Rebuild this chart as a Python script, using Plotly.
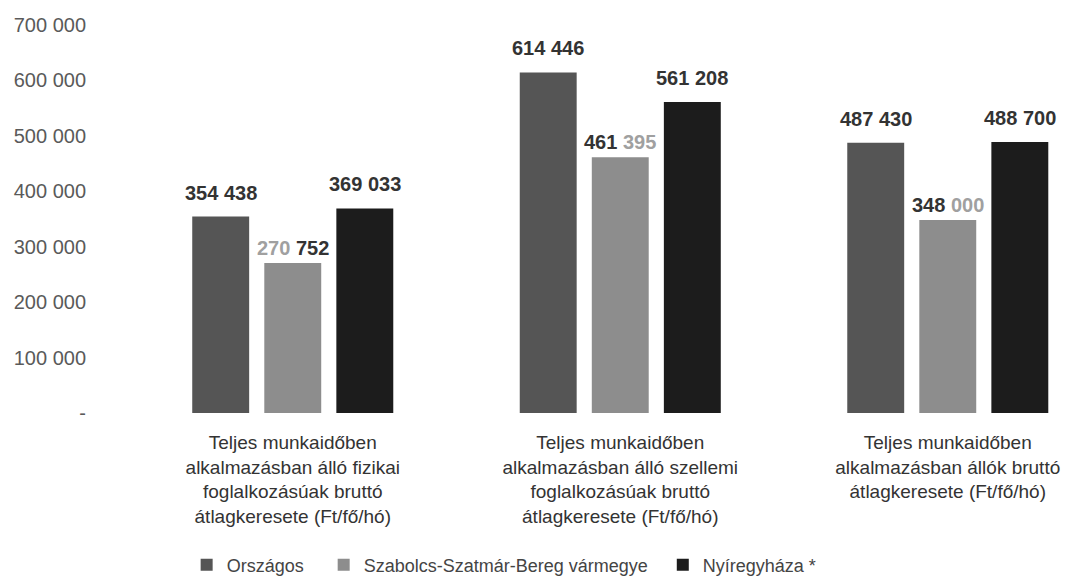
import plotly.graph_objects as go

categories = [
    "Teljes munkaidőben<br>alkalmazásban álló fizikai<br>foglalkozásúak bruttó<br>átlagkeresete (Ft/fő/hó)",
    "Teljes munkaidőben<br>alkalmazásban álló szellemi<br>foglalkozásúak bruttó<br>átlagkeresete (Ft/fő/hó)",
    "Teljes munkaidőben<br>alkalmazásban állók bruttó<br>átlagkeresete (Ft/fő/hó)",
]
series_names = ["Országos", "Szabolcs-Szatmár-Bereg vármegye", "Nyíregyháza *"]
orszagos = [354438, 614446, 487430]
szabolcs = [270752, 461395, 348000]
nyiregyhaza = [369033, 561208, 488700]
series_values = [orszagos, szabolcs, nyiregyhaza]

y_tick_vals = [0, 100000, 200000, 300000, 400000, 500000, 600000, 700000]
y_tick_text = ["-", "100 000", "200 000", "300 000", "400 000", "500 000", "600 000", "700 000"]

bar_colors = ["#555555", "#8d8d8d", "#1c1c1c"]
dark_txt = "#333333"
light_txt = "#a0a0a0"
# colour of (first group, second group) of digits in each label (scan look)
label_tones = [
    [(dark_txt, dark_txt), (dark_txt, dark_txt), (dark_txt, dark_txt)],
    [(light_txt, dark_txt), (dark_txt, light_txt), (dark_txt, light_txt)],
    [(dark_txt, dark_txt), (dark_txt, dark_txt), (dark_txt, dark_txt)],
]
label_shift = [24, 15, 24]
legend_pad = [3, 2, 0]

bargap = 0.34
bargroupgap = 0.21

fig = go.Figure()
for name, vals, col, pad in zip(series_names, series_values, bar_colors, legend_pad):
    fig.add_trace(go.Bar(x=categories, y=vals, name=name + "\u00a0" * pad,
                         marker=dict(color=col, line=dict(width=0))))

n = len(series_values)
slot = (1 - bargap) / n
annotations = []
for j, vals in enumerate(series_values):
    for i, v in enumerate(vals):
        s = f"{v:,}".replace(",", " ")
        a, b = s.split(" ")
        c1, c2 = label_tones[j][i]
        txt = f"<b><span style='color:{c1}'>{a}</span> <span style='color:{c2}'>{b}</span></b>"
        annotations.append(dict(
            x=i + (j - (n - 1) / 2) * slot, y=v, xref="x", yref="y",
            text=txt, showarrow=False, yanchor="middle", yshift=label_shift[j],
            font=dict(family="Liberation Sans, Arial, sans-serif", size=20, color=dark_txt),
        ))

fig.update_layout(
    width=1085, height=587,
    margin=dict(l=129, r=0, t=25, b=174),
    paper_bgcolor="white", plot_bgcolor="white",
    barmode="group", bargap=bargap, bargroupgap=bargroupgap,
    font=dict(family="Liberation Sans, Arial, sans-serif", color="#333333"),
    xaxis=dict(range=[-0.5, 2.419], showgrid=False, showline=False, ticks="",
               tickfont=dict(size=19, color="#333333"), ticklabelstandoff=16),
    yaxis=dict(range=[0, 700000], showgrid=False, showline=False, zeroline=False,
               tickvals=y_tick_vals, ticktext=y_tick_text, ticks="",
               tickfont=dict(size=20, color="#5a5a5a"), ticklabelstandoff=42),
    legend=dict(orientation="h", x=0.0603, xanchor="left", y=-0.392, yanchor="middle",
                font=dict(size=18, color="#444444"), traceorder="normal"),
    annotations=annotations,
)

fig.write_html("out.html", config={"displayModeBar": False},
               post_script="document.body.style.margin='0';document.body.style.padding='0';")
